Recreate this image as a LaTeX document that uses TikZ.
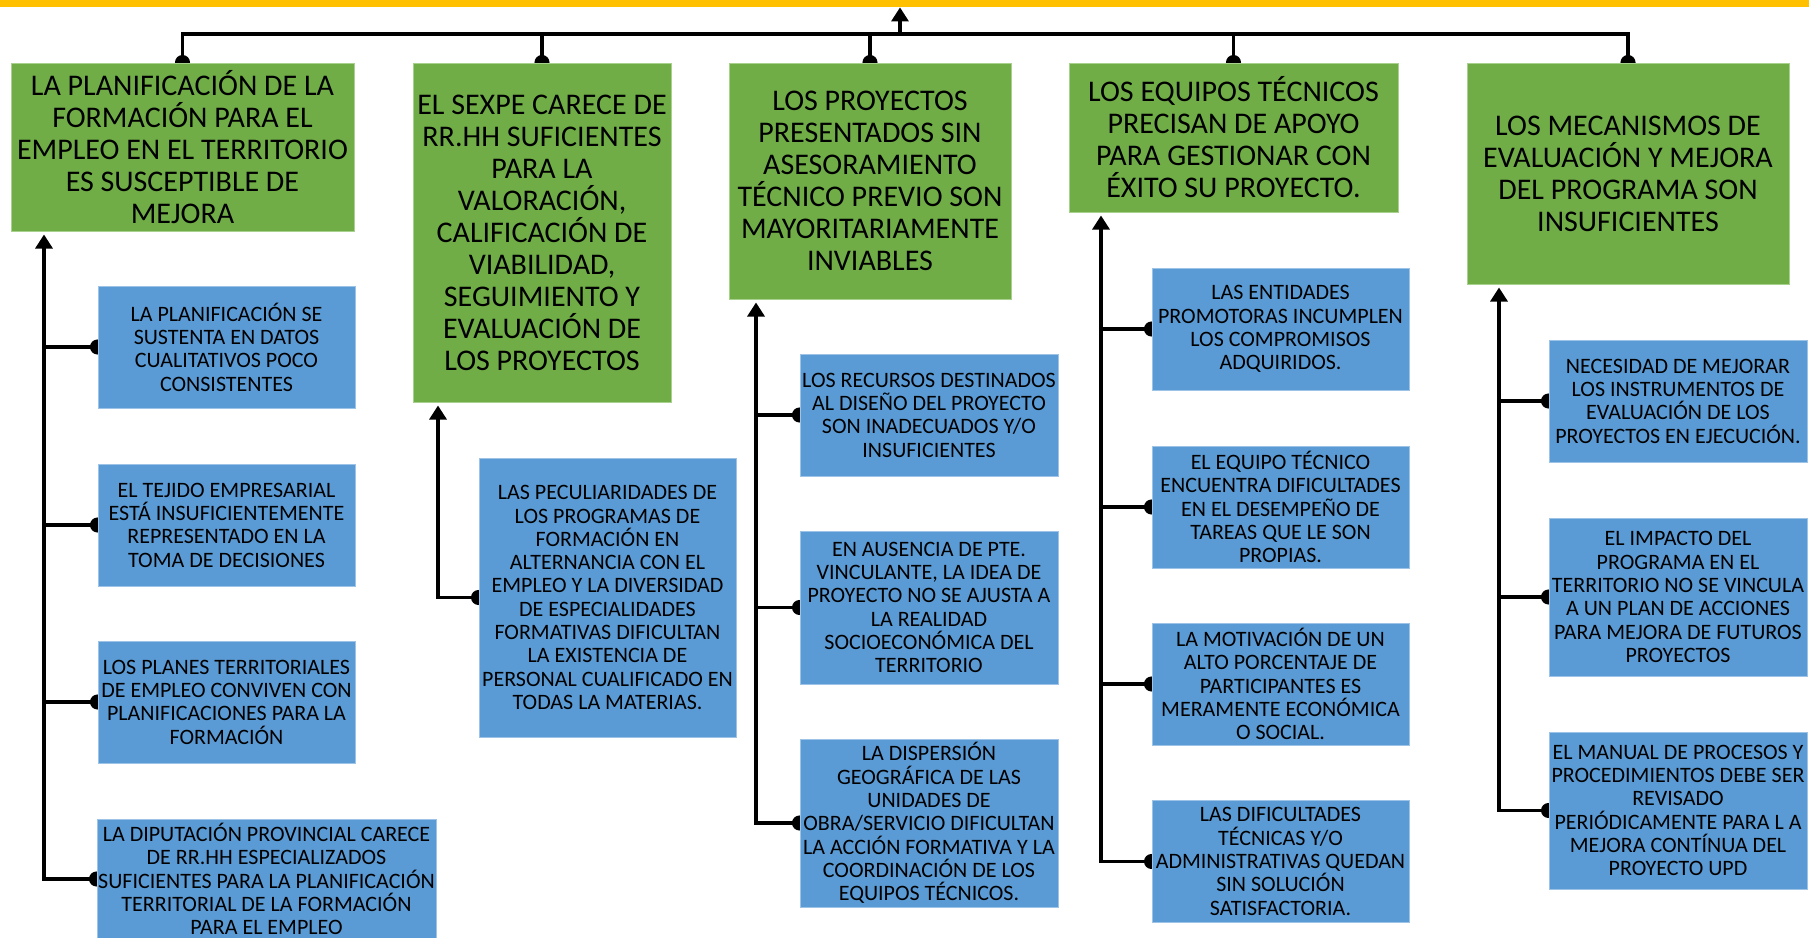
\documentclass[tikz,border=0pt]{standalone}
\usepackage{fontspec}
\setmainfont{Carlito}
\usetikzlibrary{arrows.meta}
\pgfdeclarelayer{background}
\pgfsetlayers{background,main}
\definecolor{barYellow}{HTML}{FFC000}
\definecolor{causeGreen}{HTML}{70AD47}
\definecolor{causeEdge}{HTML}{A9D18E}
\definecolor{effectBlue}{HTML}{5B9BD5}
\definecolor{effectEdge}{HTML}{9DC3E6}
\tikzset{
	headbox/.style={fill=causeGreen, draw=causeEdge, line width=1pt, inner sep=0pt, align=center, font=\fontsize{30}{32}\selectfont},
	subbox/.style={fill=effectBlue, draw=effectEdge, line width=1pt, inner sep=0pt, align=center, minimum width=257, font=\fontsize{22}{23.3}\selectfont},
	link/.style={line width=3.2pt, black},
	rounddrop/.style={link, -{Circle[length=15pt]}, shorten >=-7.5pt},
	lbranch/.style={link, {Circle[length=15pt]}-{Triangle[length=14pt,width=17pt]}, shorten <=-7.5pt, shorten >=3pt}
}
\begin{document}
\begin{tikzpicture}[x=1pt, y=-1pt, line join=miter]
	\useasboundingbox (0,0) rectangle (1809,937);
	\clip (0,0) rectangle (1809,937);
	\node[fill=barYellow, inner sep=0pt, minimum width=1809, minimum height=7, anchor=north west] (bar) at (0,0) {};
	% causas
	\node[headbox, minimum width=343, minimum height=168] (g1) at (182.5,147) {LA PLANIFICACIÓN DE LA\\FORMACIÓN PARA EL\\EMPLEO EN EL TERRITORIO\\ES SUSCEPTIBLE DE\\MEJORA};
	\node[headbox, minimum width=258, minimum height=339] (g2) at (542,232.5) {EL SEXPE CARECE DE\\RR.HH SUFICIENTES\\PARA LA\\VALORACIÓN,\\CALIFICACIÓN DE\\VIABILIDAD,\\SEGUIMIENTO Y\\EVALUACIÓN DE\\LOS PROYECTOS};
	\node[headbox, minimum width=282, minimum height=236] (g3) at (870,181) {LOS PROYECTOS\\PRESENTADOS SIN\\ASESORAMIENTO\\TÉCNICO PREVIO SON\\MAYORITARIAMENTE\\INVIABLES};
	\node[headbox, minimum width=329, minimum height=149] (g4) at (1233.5,137.5) {LOS EQUIPOS TÉCNICOS\\PRECISAN DE APOYO\\PARA GESTIONAR CON\\ÉXITO SU PROYECTO.};
	\node[headbox, minimum width=322, minimum height=221] (g5) at (1628,173.5) {LOS MECANISMOS DE\\EVALUACIÓN Y MEJORA\\DEL PROGRAMA SON\\INSUFICIENTES};
	% columna 1
	\node[subbox, minimum height=122] (b11) at (226.5,347) {LA PLANIFICACIÓN SE\\SUSTENTA EN DATOS\\CUALITATIVOS POCO\\CONSISTENTES};
	\node[subbox, minimum height=122] (b12) at (226.5,525) {EL TEJIDO EMPRESARIAL\\ESTÁ INSUFICIENTEMENTE\\REPRESENTADO EN LA\\TOMA DE DECISIONES};
	\node[subbox, minimum height=122] (b13) at (226.5,702) {LOS PLANES TERRITORIALES\\DE EMPLEO CONVIVEN CON\\PLANIFICACIONES PARA LA\\FORMACIÓN};
	\node[subbox, minimum width=339, minimum height=120] (b14) at (266.5,879) {LA DIPUTACIÓN PROVINCIAL CARECE\\DE RR.HH ESPECIALIZADOS\\SUFICIENTES PARA LA PLANIFICACIÓN\\TERRITORIAL DE LA FORMACIÓN\\PARA EL EMPLEO};
	% columna 2
	\node[subbox, minimum height=279] (b21) at (607.5,597.5) {LAS PECULIARIDADES DE\\LOS PROGRAMAS DE\\FORMACIÓN EN\\ALTERNANCIA CON EL\\EMPLEO Y LA DIVERSIDAD\\DE ESPECIALIDADES\\FORMATIVAS DIFICULTAN\\LA EXISTENCIA DE\\PERSONAL CUALIFICADO EN\\TODAS LA MATERIAS.};
	% columna 3
	\node[subbox, minimum width=258, minimum height=122] (b31) at (929,415) {LOS RECURSOS DESTINADOS\\AL DISEÑO DEL PROYECTO\\SON INADECUADOS Y/O\\INSUFICIENTES};
	\node[subbox, minimum width=258, minimum height=153] (b32) at (929,607.5) {EN AUSENCIA DE PTE.\\VINCULANTE, LA IDEA DE\\PROYECTO NO SE AJUSTA A\\LA REALIDAD\\SOCIOECONÓMICA DEL\\TERRITORIO};
	\node[subbox, minimum width=258, minimum height=168] (b33) at (929,823) {LA DISPERSIÓN\\GEOGRÁFICA DE LAS\\UNIDADES DE\\OBRA/SERVICIO DIFICULTAN\\LA ACCIÓN FORMATIVA Y LA\\COORDINACIÓN DE LOS\\EQUIPOS TÉCNICOS.};
	% columna 4
	\node[subbox, minimum height=122] (b41) at (1280.5,329) {LAS ENTIDADES\\PROMOTORAS INCUMPLEN\\LOS COMPROMISOS\\ADQUIRIDOS.};
	\node[subbox, minimum height=122] (b42) at (1280.5,507) {EL EQUIPO TÉCNICO\\ENCUENTRA DIFICULTADES\\EN EL DESEMPEÑO DE\\TAREAS QUE LE SON\\PROPIAS.};
	\node[subbox, minimum height=122] (b43) at (1280.5,684) {LA MOTIVACIÓN DE UN\\ALTO PORCENTAJE DE\\PARTICIPANTES ES\\MERAMENTE ECONÓMICA\\O SOCIAL.};
	\node[subbox, minimum height=122] (b44) at (1280.5,861.5) {LAS DIFICULTADES\\TÉCNICAS Y/O\\ADMINISTRATIVAS QUEDAN\\SIN SOLUCIÓN\\SATISFACTORIA.};
	% columna 5
	\node[subbox, minimum width=258, minimum height=122] (b51) at (1678,401) {NECESIDAD DE MEJORAR\\LOS INSTRUMENTOS DE\\EVALUACIÓN DE LOS\\PROYECTOS EN EJECUCIÓN.};
	\node[subbox, minimum width=258, minimum height=158] (b52) at (1678,597) {EL IMPACTO DEL\\PROGRAMA EN EL\\TERRITORIO NO SE VINCULA\\A UN PLAN DE ACCIONES\\PARA MEJORA DE FUTUROS\\PROYECTOS};
	\node[subbox, minimum width=258, minimum height=157] (b53) at (1678,810.5) {EL MANUAL DE PROCESOS Y\\PROCEDIMIENTOS DEBE SER\\REVISADO\\PERIÓDICAMENTE PARA L A\\MEJORA CONTÍNUA DEL\\PROYECTO UPD};
	% troncos
	\coordinate (hub) at (900,34);
	\coordinate (k1) at (44,0);
	\coordinate (k2) at (438,0);
	\coordinate (k3) at (756,0);
	\coordinate (k4) at (1101,0);
	\coordinate (k5) at (1499,0);
	\begin{pgfonlayer}{background}
		\draw[link, line cap=rect] (g1.north |- hub) -- (g5.north |- hub);
		\draw[link, -{Triangle[length=14pt,width=17pt]}] (hub) -- (hub |- bar.south);
		\foreach \g in {g1,g2,g3,g4,g5}
			\draw[rounddrop] (\g.north |- hub) -- (\g.north);
		\draw[lbranch] (b14.west) -| (k1 |- g1.south);
		\draw[lbranch] (b21.west) -| (k2 |- g2.south);
		\draw[lbranch] (b33.west) -| (k3 |- g3.south);
		\draw[lbranch] (b44.west) -| (k4 |- g4.south);
		\draw[lbranch] (b53.west) -| (k5 |- g5.south);
		\foreach \b/\k in {b11/k1, b12/k1, b13/k1, b31/k3, b32/k3, b41/k4, b42/k4, b43/k4, b51/k5, b52/k5}
			\draw[rounddrop] (\k |- \b.west) -- (\b.west);
	\end{pgfonlayer}
\end{tikzpicture}
\end{document}
